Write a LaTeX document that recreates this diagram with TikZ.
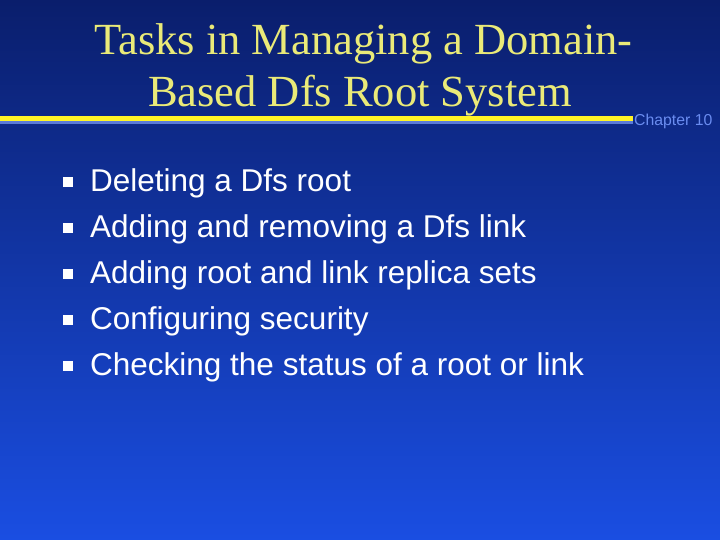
\documentclass[tikz,border=0pt]{standalone}
\usepackage{fontspec}
\setmainfont{Liberation Serif}
\newfontfamily\arial{Liberation Sans}
\definecolor{bgtop}{HTML}{0A1E6C}
\definecolor{bgbot}{HTML}{1A4EE2}
\definecolor{ttl}{HTML}{EAEA78}
\definecolor{chap}{HTML}{6A8CF0}
\definecolor{uline}{HTML}{5A7AD8}
\begin{document}
\begin{tikzpicture}[x=1pt,y=-1pt,
  title/.style={text=ttl,font=\fontsize{44.5}{48}\selectfont,anchor=center,inner sep=0},
  item/.style={text=white,font=\arial\fontsize{31.5}{34}\selectfont,anchor=west,inner sep=0},
  bul/.style={fill=white,minimum size=10pt,inner sep=0}]
\shade[top color=bgtop,bottom color=bgbot] (0,0) rectangle (720,540);
\useasboundingbox (0,0) rectangle (720,540);
\node[title] (t1) at (363.5,44) {Tasks in Managing a Domain-};
\node[title] (t2) at (360,96) {Based Dfs Root System};
\fill[uline] (0,120) rectangle (633,124);
\fill[yellow!85!white] (0,116.5) rectangle (633,121);
\node[text=chap,font=\arial\fontsize{15.8}{18}\selectfont,anchor=west,inner sep=0] (ch) at (634,121) {Chapter 10};
\foreach \t [count=\i] in {Deleting a Dfs root,Adding and removing a Dfs link,Adding root and link replica sets,Configuring security,Checking the status of a root or link}{
  \node[bul] (b\i) at (68,{136+46*\i}) {};
  \node[item] (i\i) at (90,{137+46*\i}) {\t};
}
\end{tikzpicture}
\end{document}
